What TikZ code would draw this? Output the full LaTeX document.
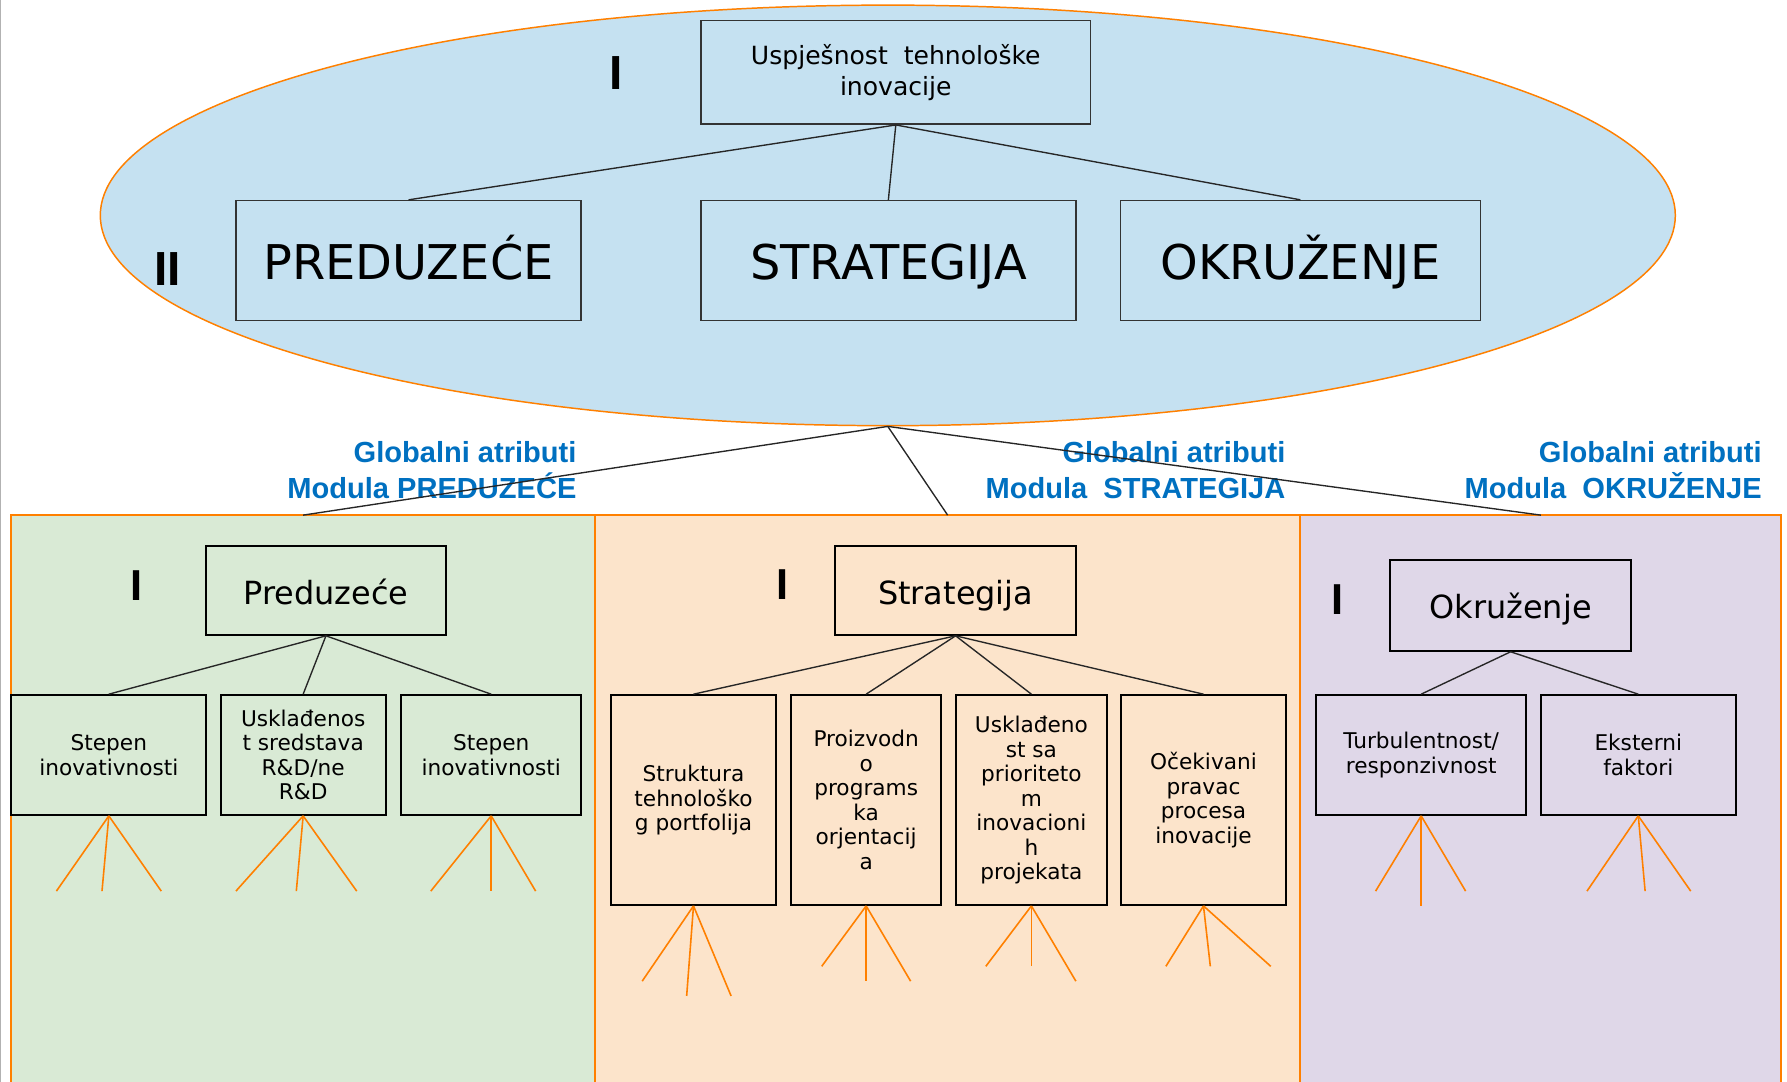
\documentclass[tikz,border=0pt]{standalone}
\usepackage{fontspec}
\setmainfont{DejaVu Sans}
\newfontfamily\arialfont{Liberation Sans}
\usetikzlibrary{shapes.geometric}
\definecolor{ovalblue}{HTML}{C5E1F1}
\definecolor{firmgreen}{HTML}{D9EAD5}
\definecolor{stratpeach}{HTML}{FCE4CB}
\definecolor{envlilac}{HTML}{DFD7E8}
\definecolor{edgeorange}{HTML}{FF8000}
\definecolor{labelblue}{HTML}{0070C0}
\newcommand{\bigcaps}{\fontsize{42}{48}\selectfont}
\newcommand{\midtxt}{\fontsize{28}{32}\selectfont}
\newcommand{\smalltxt}{\fontsize{19}{21.5}\selectfont}
\newcommand{\fanout}[7]{
	\draw [fan] (#1.south) -- ++(#2,#3) coordinate (#1 l);
	\draw [fan] (#1.south) -- ++(#4,#5) coordinate (#1 m);
	\draw [fan] (#1.south) -- ++(#6,#7) coordinate (#1 r);
}

\begin{document}
\begin{tikzpicture}[x=1pt, y=-1pt,
	box/.style={draw=black!80, line width=1.3pt, inner sep=0pt, align=center},
	bigbox/.style={box, font=\bigcaps, text height=33pt, text depth=0pt, minimum height=105pt},
	subbox/.style={draw=black, line width=1.8pt, inner sep=0pt, align=center, font=\smalltxt},
	headbox/.style={subbox, font=\midtxt, text height=24pt, text depth=0pt, minimum width=211pt},
	panel/.style={draw=edgeorange, line width=1.6pt, inner sep=0pt, outer sep=0pt, anchor=north west, minimum height=500pt},
	link/.style={draw=black!85, line width=1.2pt},
	fan/.style={edgeorange, line width=1.4pt},
	level/.style={font=\arialfont\bfseries\fontsize{#1}{#1}\selectfont, inner sep=0pt},
	attr/.style={font=\arialfont\bfseries\fontsize{25.5}{32}\selectfont, text=labelblue, align=right, anchor=north east, inner sep=0pt}]
\useasboundingbox (0,0) rectangle (1568,949);
\clip (0,0) rectangle (1568,949);
\draw [gray!60, line width=1pt] (0.5,0) -- (0.5,949);

\node [panel, fill=firmgreen, minimum width=512pt] (firmpanel) at (10,452) {};
\node [panel, fill=stratpeach, minimum width=619pt] (stratpanel) at (522,452) {};
\node [panel, fill=envlilac, minimum width=422pt] (envpanel) at (1141,452) {};

\node [ellipse, draw=edgeorange, fill=ovalblue, line width=1.3pt, inner sep=0pt, minimum width=1382pt, minimum height=369pt] (oval) at (779,189) {};

\node [level=42] (lvlone) at (541,64) {I};
\node [level=42] (lvltwo) at (147,236) {II};
\node [level=38] (firmlvl) at (120,514) {I};
\node [level=38] (stratlvl) at (687,513) {I};
\node [level=38] (envlvl) at (1174,526) {I};

\node [attr] (firmattr) at (506,387) {Globalni atributi\\Modula PREDUZEĆE};
\node [attr] (stratattr) at (1128,387) {Globalni atributi\\Modula\ \ STRATEGIJA};
\node [attr] (envattr) at (1546,387) {Globalni atributi\\Modula\ \ OKRUŽENJE};

\node [box, font={\fontsize{22}{27.5}\selectfont}, minimum width=342pt, minimum height=91pt] (success) at (786,63.5) {Uspješnost\ \ tehnološke\\inovacije};
\node [bigbox, minimum width=303pt] (bigfirm) at (358.5,228.5) {PREDUZEĆE};
\node [bigbox, minimum width=329pt] (bigstrat) at (779.5,228.5) {STRATEGIJA};
\node [bigbox, minimum width=316pt] (bigenv) at (1141,228.5) {OKRUŽENJE};

\node [headbox, minimum width=210pt, minimum height=78pt] (firm) at (286,518) {Preduzeće};
\node [subbox, minimum width=171pt, minimum height=105pt] (firmA) at (95.5,662.5) {Stepen\\inovativnosti};
\node [subbox, minimum width=145pt, minimum height=105pt] (firmB) at (266,662.5) {Usklađenos\\t sredstava\\R\&D/ne\\R\&D};
\node [subbox, minimum width=158pt, minimum height=105pt] (firmC) at (431,662.5) {Stepen\\inovativnosti};

\node [headbox, minimum height=78pt] (strat) at (838.5,518) {Strategija};
\node [subbox, minimum width=145pt, minimum height=184pt] (stratA) at (608.5,702) {Struktura\\tehnološko\\g portfolija};
\node [subbox, minimum width=132pt, minimum height=184pt] (stratB) at (760,702) {Proizvodn\\o\\programs\\ka\\orjentacij\\a};
\node [subbox, minimum width=132pt, minimum height=184pt] (stratC) at (905,702) {Usklađeno\\st sa\\prioriteto\\m\\inovacioni\\h\\projekata};
\node [subbox, minimum width=144pt, minimum height=184pt] (stratD) at (1056,702) {Očekivani\\pravac\\procesa\\inovacije};

\node [headbox, minimum height=80pt] (env) at (1325.5,531) {Okruženje};
\node [subbox, minimum width=184.5pt, minimum height=105pt] (envA) at (1247,662.5) {Turbulentnost/\\responzivnost};
\node [subbox, minimum width=171pt, minimum height=105pt] (envB) at (1437.5,662.5) {Eksterni\\faktori};

\draw [link] (success.south) -- (bigfirm.north);
\draw [link] (success.south) -- (bigstrat.north);
\draw [link] (success.south) -- (bigenv.north);
\draw [link] (oval.south) -- (firmpanel.north);
\draw [link] (oval.south) -- (stratpanel.north);
\draw [link] (oval.south) -- (envpanel.north);
\draw [link] (firm.south) -- (firmA.north);
\draw [link] (firm.south) -- (firmB.north);
\draw [link] (firm.south) -- (firmC.north);
\draw [link] (strat.south) -- (stratA.north);
\draw [link] (strat.south) -- (stratB.north);
\draw [link] (strat.south) -- (stratC.north);
\draw [link] (strat.south) -- (stratD.north);
\draw [link] (env.south) -- (envA.north);
\draw [link] (env.south) -- (envB.north);

\fanout{firmA}{-46}{66}{-6}{66}{46}{66}
\fanout{firmB}{-59}{66}{-6}{66}{47}{66}
\fanout{firmC}{-53}{66}{0}{66}{39}{66}
\fanout{stratA}{-45}{66}{-6}{79}{33}{79}
\fanout{stratB}{-39}{53}{0}{66}{39}{66}
\fanout{stratC}{-40}{53}{0}{53}{39}{66}
\fanout{stratD}{-33}{53}{6}{53}{59}{53}
\fanout{envA}{-40}{66}{0}{79}{39}{66}
\fanout{envB}{-45}{66}{6}{66}{46}{66}
\end{tikzpicture}
\end{document}
